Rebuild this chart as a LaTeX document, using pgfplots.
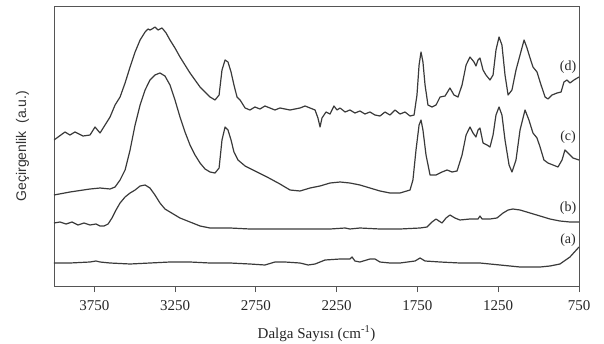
\documentclass[border=0pt]{standalone}
\usepackage{fontspec}
\setmainfont{Liberation Serif}
\newfontfamily\sansf{Liberation Sans}
\usepackage{pgfplots}
\pgfplotsset{compat=1.18}
\definecolor{curve}{HTML}{3A3A3A}
\definecolor{axcol}{HTML}{555555}
\begin{document}
\begin{tikzpicture}
\useasboundingbox (0,0) rectangle (604pt,343pt);
\begin{axis}[
  at={(54pt,57pt)}, anchor=south west,
  width=525pt, height=280pt, scale only axis,
  x dir=reverse, xmin=750, xmax=4000, ymin=0, ymax=280,
  xtick={750,1250,1750,2250,2750,3250,3750},
  ytick=\empty,
  tick align=outside, xtick pos=bottom, major tick length=6pt,
  axis line style={axcol, line width=0.9pt},
  tick style={axcol, line width=0.9pt},
  /pgf/number format/assume math mode=true,
  /pgf/number format/1000 sep={},
  ticklabel style={font=\rmfamily\fontsize{15}{18}\selectfont, text=black!85},
  xticklabel style={yshift=-5pt},
  clip mode=individual,
]
% (d)
\addplot[curve, line width=1.2pt, line join=round] coordinates {
(4000,146) (3932,154) (3901,151) (3870,154) (3820,150) (3777,151) (3746,159) (3715,153) (3684,161) (3653,169)
(3622,181) (3591,189) (3560,203) (3529,219) (3498,234) (3467,246) (3436,254) (3418,257) (3406,256) (3393,257)
(3375,259) (3356,256) (3331,258) (3306,253) (3282,246) (3251,238) (3220,229) (3189,221) (3158,213) (3127,206)
(3096,199) (3065,194) (3034,189) (3003,186) (2978,191) (2960,216) (2941,226) (2923,224) (2904,214) (2886,201)
(2867,189) (2848,186) (2817,178) (2787,176) (2756,179) (2725,177) (2694,180) (2663,178) (2632,176) (2601,178)
(2539,176) (2477,178) (2446,180) (2415,178) (2384,176) (2366,168) (2353,159) (2341,168) (2316,174) (2291,172)
(2267,180) (2248,176) (2229,178) (2198,174) (2168,176) (2137,173) (2106,175) (2075,172) (2044,174) (2013,171)
(1982,170) (1951,174) (1920,171) (1889,176) (1858,172) (1827,174) (1796,170) (1771,171) (1753,191) (1740,221)
(1728,234) (1716,224) (1703,201) (1685,181) (1660,179) (1635,181) (1610,189) (1579,190) (1549,198) (1524,191)
(1499,189) (1474,201) (1449,221) (1425,229) (1400,224) (1388,220) (1375,226) (1363,228) (1344,216) (1326,211)
(1301,206) (1282,211) (1264,236) (1245,249) (1227,241) (1208,211) (1189,191) (1165,196) (1140,216) (1115,231)
(1090,246) (1072,238) (1053,228) (1035,219) (1010,214) (985,201) (960,189) (942,187) (917,191) (886,193)
(861,194) (843,204) (824,206) (806,203) (781,206) (750,209)
};
% (c)
\addplot[curve, line width=1.2pt, line join=round] coordinates {
(4000,91) (3901,94) (3777,97) (3715,98) (3653,97) (3622,99) (3591,106) (3560,116) (3529,136) (3498,161)
(3467,181) (3436,196) (3406,206) (3375,211) (3344,213) (3313,210) (3282,201) (3251,186) (3220,169) (3189,154)
(3158,141) (3127,131) (3096,123) (3065,117) (3034,114) (3003,113) (2978,118) (2960,146) (2941,159) (2923,156)
(2904,146) (2886,134) (2861,126) (2817,120) (2756,115) (2681,109) (2601,102) (2539,96) (2477,95) (2415,98)
(2353,100) (2291,103) (2229,104) (2168,103) (2106,101) (2044,98) (1982,95) (1920,93) (1858,93) (1796,96)
(1778,106) (1759,136) (1740,161) (1728,166) (1716,156) (1697,131) (1672,111) (1635,111) (1598,114) (1567,116)
(1536,114) (1505,115) (1474,131) (1449,151) (1425,159) (1406,153) (1388,149) (1375,156) (1363,158) (1344,143)
(1319,141) (1301,139) (1282,151) (1264,171) (1245,179) (1227,171) (1208,146) (1183,121) (1165,114) (1140,126)
(1115,156) (1084,176) (1060,166) (1035,153) (1010,148) (991,139) (967,126) (942,123) (911,121) (880,119)
(855,126) (837,136) (818,133) (787,128) (750,126)
};
% (b)
\addplot[curve, line width=1.2pt, line join=round] coordinates {
(4000,63) (3963,64) (3925,62) (3888,64) (3851,61) (3814,63) (3777,61) (3740,62) (3715,60) (3690,60)
(3665,62) (3641,68) (3616,76) (3591,83) (3560,89) (3529,93) (3498,96) (3467,100) (3436,101) (3406,98)
(3375,91) (3344,83) (3313,77) (3282,74) (3251,71) (3220,68) (3158,64) (3096,60) (3034,58) (2910,58)
(2787,57) (2663,57) (2477,57) (2291,57) (2198,58) (2168,57) (2106,58) (1982,57) (1858,57) (1734,58)
(1691,59) (1660,64) (1635,67) (1617,65) (1598,63) (1573,68) (1549,71) (1518,68) (1487,66) (1425,67)
(1375,67) (1363,70) (1350,67) (1301,67) (1258,68) (1220,73) (1189,76) (1159,77) (1115,76) (1053,73)
(991,70) (930,67) (868,65) (806,64) (750,64)
};
% (a)
\addplot[curve, line width=1.2pt, line join=round] coordinates {
(4000,23) (3901,23) (3777,24) (3740,25) (3715,24) (3653,23) (3529,22) (3406,23) (3282,24) (3158,24)
(3034,23) (2910,23) (2787,22) (2694,21) (2632,24) (2570,24) (2477,23) (2427,21) (2384,22) (2322,26)
(2229,27) (2168,27) (2155,29) (2137,25) (2106,24) (2044,27) (2013,27) (1982,24) (1920,23) (1858,23)
(1765,25) (1734,28) (1703,25) (1610,24) (1487,23) (1363,23) (1239,21) (1115,19) (991,19) (930,20)
(868,22) (806,29) (750,39)
};
\node[font=\rmfamily\fontsize{14}{16}\selectfont, text=black!85] at (axis cs:818,219) {(d)};
\node[font=\rmfamily\fontsize{14}{16}\selectfont, text=black!85] at (axis cs:818,149) {(c)};
\node[font=\rmfamily\fontsize{14}{16}\selectfont, text=black!85] at (axis cs:818,78) {(b)};
\node[font=\rmfamily\fontsize{14}{16}\selectfont, text=black!85] at (axis cs:818,46) {(a)};
\node[font=\rmfamily\fontsize{15}{18}\selectfont, text=black!85, anchor=north] at (axis description cs:0.5,-0.13) {Dalga Sayısı (cm\textsuperscript{-1})};
\node[font=\sansf\fontsize{14}{16}\selectfont, text=black!80, rotate=90, anchor=center] at (axis description cs:-0.06,0.5) {Geçirgenlik\ \ (a.u.)};
\end{axis}
\end{tikzpicture}
\end{document}
